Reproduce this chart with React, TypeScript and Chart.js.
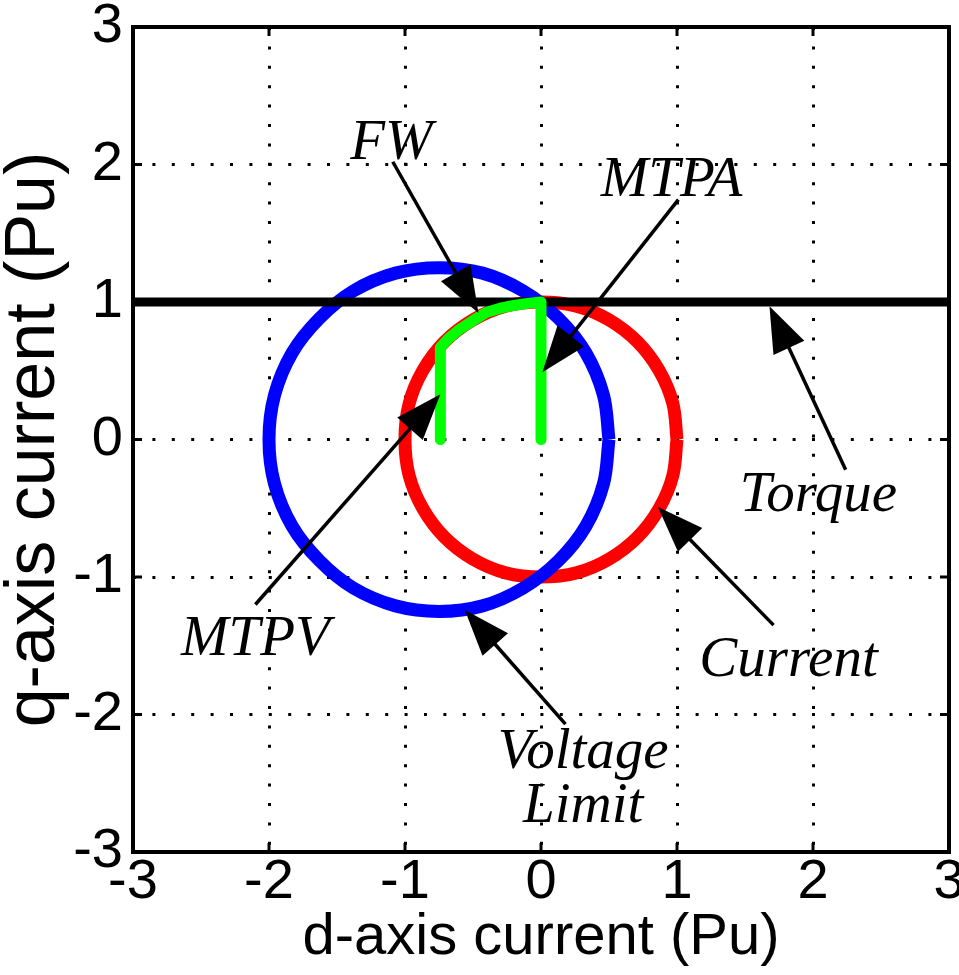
import React, { useEffect, useRef } from 'react';
import { Chart, registerables } from 'chart.js';

Chart.register(...registerables);

// Axis ticks
const xTicks = [-3, -2, -1, 0, 1, 2, 3];
const yTicks = [-3, -2, -1, 0, 1, 2, 3];

// Current limit circle (red)
const currentX = [1, 0.97, 0.87, 0.71, 0.5, 0.26, 0, -0.26, -0.5, -0.71, -0.87, -0.97, -1, -0.97, -0.87, -0.71, -0.5, -0.26, 0, 0.26, 0.5, 0.71, 0.87, 0.97, 1];
const currentY = [0, 0.26, 0.5, 0.71, 0.87, 0.97, 1, 0.97, 0.87, 0.71, 0.5, 0.26, 0, -0.26, -0.5, -0.71, -0.87, -0.97, -1, -0.97, -0.87, -0.71, -0.5, -0.26, 0];

// Voltage limit circle (blue)
const voltageX = [0.5, 0.46, 0.33, 0.13, -0.13, -0.43, -0.75, -1.07, -1.38, -1.63, -1.83, -1.96, -2.0, -1.96, -1.83, -1.63, -1.38, -1.07, -0.75, -0.43, -0.13, 0.13, 0.33, 0.46, 0.5];
const voltageY = [0, 0.32, 0.63, 0.88, 1.08, 1.21, 1.25, 1.21, 1.08, 0.88, 0.63, 0.32, 0, -0.32, -0.63, -0.88, -1.08, -1.21, -1.25, -1.21, -1.08, -0.88, -0.63, -0.32, 0];

// Torque line (black)
const torqueX = [-3, 3];
const torqueY = [1, 1];

// Operating trajectory MTPA -> FW -> MTPV (green)
const trajX = [0, 0, -0.1, -0.2, -0.3, -0.4, -0.5, -0.6, -0.68, -0.74, -0.74];
const trajY = [0, 1, 0.99, 0.975, 0.955, 0.925, 0.865, 0.8, 0.735, 0.67, 0];

// Annotations
const noteText = [['FW'], ['MTPA'], ['MTPV'], ['Torque'], ['Current'], ['Voltage', 'Limit']];
const noteX = [-1.1, 0.96, -2.1, 2.04, 1.82, 0.31];
const noteY = [2.04, 1.77, -1.57, -0.52, -1.72, -2.39];
const arrowTailX = [-1.09, 1.01, -2.1, 2.24, 1.71, 0.18];
const arrowTailY = [2.02, 1.745, -1.2, -0.22, -1.35, -2.07];
const arrowTipX = [-0.46, 0.01, -0.74, 1.68, 0.86, -0.56];
const arrowTipY = [0.92, 0.49, 0.33, 0.97, -0.49, -1.24];

const pts = (xs: number[], ys: number[]) => xs.map((v, i) => ({ x: v, y: ys[i] }));

const overlayPlugin = {
  id: 'overlay',
  afterDatasetsDraw(chart: any) {
    const { ctx, chartArea: a, scales } = chart;
    const sx = scales.x;
    const sy = scales.y;
    ctx.save();
    // frame
    ctx.strokeStyle = '#000';
    ctx.lineWidth = 4;
    ctx.strokeRect(a.left, a.top, a.right - a.left, a.bottom - a.top);
    // inward ticks
    ctx.lineWidth = 3;
    const seg = (x1: number, y1: number, x2: number, y2: number) => {
      ctx.beginPath();
      ctx.moveTo(x1, y1);
      ctx.lineTo(x2, y2);
      ctx.stroke();
    };
    const tl = 9;
    xTicks.forEach((v) => {
      const px = sx.getPixelForValue(v);
      seg(px, a.bottom, px, a.bottom - tl);
      seg(px, a.top, px, a.top + tl);
    });
    yTicks.forEach((v) => {
      const py = sy.getPixelForValue(v);
      seg(a.left, py, a.left + tl, py);
      seg(a.right, py, a.right - tl, py);
    });
    // arrows
    const headLen = 46;
    const headW = 34;
    for (let i = 0; i < arrowTailX.length; i++) {
      const x1 = sx.getPixelForValue(arrowTailX[i]);
      const y1 = sy.getPixelForValue(arrowTailY[i]);
      const x2 = sx.getPixelForValue(arrowTipX[i]);
      const y2 = sy.getPixelForValue(arrowTipY[i]);
      const dx = x2 - x1;
      const dy = y2 - y1;
      const len = Math.hypot(dx, dy);
      const ux = dx / len;
      const uy = dy / len;
      const bx = x2 - ux * headLen;
      const by = y2 - uy * headLen;
      ctx.strokeStyle = '#000';
      ctx.lineWidth = 3.5;
      seg(x1, y1, bx + ux * 2, by + uy * 2);
      ctx.fillStyle = '#000';
      ctx.beginPath();
      ctx.moveTo(x2, y2);
      ctx.lineTo(bx - uy * headW / 2, by + ux * headW / 2);
      ctx.lineTo(bx + uy * headW / 2, by - ux * headW / 2);
      ctx.closePath();
      ctx.fill();
    }
    // labels
    ctx.fillStyle = '#000';
    ctx.font = 'italic 57px "Liberation Serif", "Times New Roman", serif';
    ctx.textAlign = 'center';
    ctx.textBaseline = 'alphabetic';
    for (let i = 0; i < noteText.length; i++) {
      const px = sx.getPixelForValue(noteX[i]);
      const py = sy.getPixelForValue(noteY[i]);
      noteText[i].forEach((line, k) => {
        ctx.fillText(line, px, py + k * 54);
      });
    }
    ctx.restore();
  },
};

export default function App() {
  const ref = useRef<HTMLCanvasElement | null>(null);
  useEffect(() => {
    if (!ref.current) return;
    const tickFont = { family: '"Liberation Sans", Arial, sans-serif', size: 56, lineHeight: 1 };
    const xTitleFont = { family: '"Liberation Sans", Arial, sans-serif', size: 58, lineHeight: 1 };
    const yTitleFont = { family: '"Liberation Sans", Arial, sans-serif', size: 70, lineHeight: 1 };
    const chart = new Chart(ref.current, {
      type: 'line',
      data: {
        datasets: [
          {
            label: 'Trajectory',
            data: pts(trajX, trajY),
            borderColor: '#00ff00',
            borderWidth: 11,
            borderJoinStyle: 'round',
            borderCapStyle: 'round',
            pointRadius: 0,
            tension: 0,
            order: 1,
          },
          {
            label: 'Torque',
            data: pts(torqueX, torqueY),
            borderColor: '#000000',
            borderWidth: 9,
            borderCapStyle: 'round',
            pointRadius: 0,
            tension: 0,
            order: 2,
          },
          {
            label: 'Voltage Limit',
            data: pts(voltageX, voltageY),
            borderColor: '#0000ff',
            borderWidth: 13,
            borderJoinStyle: 'round',
            pointRadius: 0,
            tension: 0.34,
            order: 3,
          },
          {
            label: 'Current',
            data: pts(currentX, currentY),
            borderColor: '#ff0000',
            borderWidth: 13,
            borderJoinStyle: 'round',
            pointRadius: 0,
            tension: 0.34,
            order: 4,
          },
        ],
      },
      options: {
        animation: false,
        responsive: false,
        devicePixelRatio: 1,
        layout: { padding: { top: 27, right: 10, left: 0, bottom: 0 } },
        plugins: { legend: { display: false }, tooltip: { enabled: false } },
        elements: { line: { capBezierPoints: false } },
        scales: {
          x: {
            type: 'linear',
            min: -3,
            max: 3,
            afterBuildTicks: (s: any) => { s.ticks = xTicks.map((v) => ({ value: v })); },
            afterFit: (s: any) => { s.height = 123; s.paddingLeft = 0; s.paddingRight = 0; },
            ticks: { font: tickFont, color: '#000', padding: 3, maxRotation: 0, autoSkip: false },
            grid: { color: '#000', lineWidth: 3, drawTicks: false },
            border: { display: false, dash: [3, 16.4] },
            title: { display: true, text: 'd-axis current (Pu)', font: xTitleFont, color: '#000', padding: { top: 0, bottom: 8 } },
          },
          y: {
            type: 'linear',
            min: -3,
            max: 3,
            afterBuildTicks: (s: any) => { s.ticks = yTicks.map((v) => ({ value: v })); },
            afterFit: (s: any) => { s.width = 133; s.paddingTop = 0; s.paddingBottom = 0; },
            ticks: { font: tickFont, color: '#000', padding: 10, autoSkip: false },
            grid: { color: '#000', lineWidth: 3, drawTicks: false },
            border: { display: false, dash: [3, 16.4] },
            title: { display: true, text: 'q-axis current (Pu)', font: yTitleFont, color: '#000', padding: { top: 0, bottom: 0 } },
          },
        },
      },
      plugins: [overlayPlugin],
    } as any);
    return () => chart.destroy();
  }, []);
  return (
    <div style={{ position: 'absolute', left: 0, top: 0, width: 959, height: 975, background: '#fff' }}>
      <canvas ref={ref} width={959} height={975} style={{ width: 959, height: 975, display: 'block' }} />
    </div>
  );
}
